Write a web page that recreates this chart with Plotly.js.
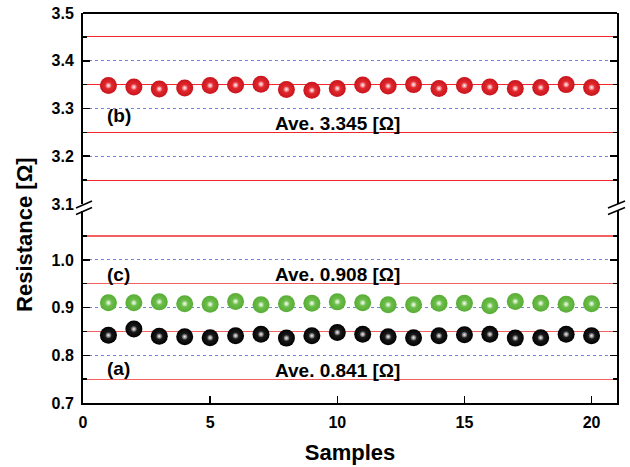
<!DOCTYPE html>
<html>
<head>
<meta charset="utf-8">
<script src="https://cdn.plot.ly/plotly-3.0.1.min.js"></script>
<style>html,body{margin:0;padding:0;background:#fff;}#chart{width:630px;height:467px;}</style>
</head>
<body>
<div id="chart"></div>
<script>
// ---- data ----
const samples = [1,2,3,4,5,6,7,8,9,10,11,12,13,14,15,16,17,18,19,20];
const resA = [0.842,0.855,0.840,0.839,0.837,0.841,0.844,0.836,0.841,0.848,0.844,0.839,0.837,0.841,0.843,0.844,0.836,0.837,0.844,0.841];
const resB = [3.348,3.345,3.341,3.343,3.348,3.349,3.351,3.340,3.338,3.342,3.349,3.347,3.350,3.342,3.348,3.345,3.342,3.344,3.350,3.344];
const resC = [0.910,0.910,0.912,0.908,0.907,0.913,0.906,0.908,0.909,0.912,0.910,0.906,0.906,0.909,0.909,0.904,0.913,0.909,0.907,0.908];
const xTicks = [0,5,10,15,20];
const yLowTicks = [0.7,0.8,0.9,1.0];
const yLowText = ['0.7','0.8','0.9','1.0'];
const yLowMinor = [0.75,0.85,0.95,1.05];
const yHighTicks = [3.1,3.2,3.3,3.4,3.5];
const yHighText = ['3.1','3.2','3.3','3.4','3.5'];
const yHighMinor = [3.15,3.25,3.35,3.45];
const seriesLabels = ['(a)','(b)','(c)'];
const aveLabels = ['Ave. 0.841 [Ω]','Ave. 3.345 [Ω]','Ave. 0.908 [Ω]'];

const FONT = 'Liberation Sans, Arial, sans-serif';

function balls(y, edge, center, yaxis){
  return [
    {x: samples, y: y, yaxis: yaxis, type:'scatter', mode:'markers', hoverinfo:'skip',
     marker:{size:17, color: edge, line:{width:0}, gradient:{type:'radial', color:center}}},
    {x: samples, y: y, yaxis: yaxis, type:'scatter', mode:'markers', hoverinfo:'skip',
     marker:{size:6, color:'rgba(255,255,255,0.15)', line:{width:0},
             gradient:{type:'radial', color:'rgba(255,255,255,0.95)'}}}
  ];
}

const data = [].concat(
  balls(resB, '#c8141c', '#f2343a', 'y2'),
  balls(resC, '#58ad36', '#78c855', 'y'),
  balls(resA, '#000000', '#2a2a2a', 'y')
);

const yCommon = {
  showline:true, linecolor:'#000', linewidth:2, mirror:'ticks',
  ticks:'inside', ticklen:7, tickwidth:1.5, tickcolor:'#000',
  tickfont:{family:FONT, size:16, color:'#000', weight:'bold'},
  showgrid:true, gridcolor:'#6f8ad6', griddash:'dot', gridwidth:1,
  zeroline:false, tickmode:'array', ticklabelstandoff:4
};

const layout = {
  width:630, height:467,
  margin:{l:83, r:13, t:13, b:64},
  paper_bgcolor:'#fff', plot_bgcolor:'#fff',
  showlegend:false,
  xaxis:{
    range:[0,21], anchor:'y', tickmode:'array', tickvals:xTicks,
    ticks:'inside', ticklen:7, tickwidth:1.5, tickcolor:'#000',
    showline:true, linecolor:'#000', linewidth:2, mirror:false,
    showgrid:false, zeroline:false,
    tickfont:{family:FONT, size:16, color:'#000', weight:'bold'},
    ticklabelstandoff:4,
    title:{text:'Samples', font:{family:FONT, size:22, color:'#000', weight:'bold'}, standoff:14}
  },
  yaxis: Object.assign({}, yCommon, {
    domain:[0, 0.4923], range:[0.7, 1.1025], tickvals:yLowTicks, ticktext:yLowText,
    minor:{tickmode:'array', tickvals:yLowMinor, ticks:'inside', ticklen:4, tickcolor:'#000',
           showgrid:true, gridcolor:'#f26060', gridwidth:1.2, griddash:'solid'}
  }),
  yaxis2: Object.assign({}, yCommon, {
    domain:[0.5103, 1], range:[3.1, 3.5], tickvals:yHighTicks, ticktext:yHighText, anchor:'x',
    minor:{tickmode:'array', tickvals:yHighMinor, ticks:'inside', ticklen:4, tickcolor:'#000',
           showgrid:true, gridcolor:'#f0262c', gridwidth:1.2, griddash:'solid'}
  }),
  shapes:[
    {type:'line', xref:'paper', yref:'paper', x0:0, x1:1, y0:1, y1:1, line:{color:'#000', width:2}},
    // break marks left
    {type:'line', xref:'paper', yref:'paper', xsizemode:'pixel', ysizemode:'pixel', xanchor:0, yanchor:0.5013,
     x0:-7, x1:9, y0:-0.5, y1:6.5, line:{color:'#000', width:1.5}},
    {type:'line', xref:'paper', yref:'paper', xsizemode:'pixel', ysizemode:'pixel', xanchor:0, yanchor:0.5013,
     x0:-7, x1:9, y0:-7, y1:0, line:{color:'#000', width:1.5}},
    // break marks right
    {type:'line', xref:'paper', yref:'paper', xsizemode:'pixel', ysizemode:'pixel', xanchor:1, yanchor:0.5013,
     x0:-9, x1:8, y0:-0.5, y1:6.5, line:{color:'#000', width:1.5}},
    {type:'line', xref:'paper', yref:'paper', xsizemode:'pixel', ysizemode:'pixel', xanchor:1, yanchor:0.5013,
     x0:-9, x1:8, y0:-7, y1:0, line:{color:'#000', width:1.5}}
  ],
  annotations:[
    {x:1.4, y:3.286, xref:'x', yref:'y2', text:seriesLabels[1], showarrow:false, font:{family:FONT, size:19, color:'#000', weight:'bold'}},
    {x:10, y:3.269, xref:'x', yref:'y2', text:aveLabels[1], showarrow:false, font:{family:FONT, size:19, color:'#000', weight:'bold'}},
    {x:1.4, y:0.969, xref:'x', yref:'y', text:seriesLabels[2], showarrow:false, font:{family:FONT, size:19, color:'#000', weight:'bold'}},
    {x:10, y:0.970, xref:'x', yref:'y', text:aveLabels[2], showarrow:false, font:{family:FONT, size:19, color:'#000', weight:'bold'}},
    {x:1.4, y:0.7715, xref:'x', yref:'y', text:seriesLabels[0], showarrow:false, font:{family:FONT, size:19, color:'#000', weight:'bold'}},
    {x:10, y:0.769, xref:'x', yref:'y', text:aveLabels[0], showarrow:false, font:{family:FONT, size:19, color:'#000', weight:'bold'}},
    {x:-0.1086, y:0.431, xref:'paper', yref:'paper', xanchor:'center', yanchor:'middle',
     text:'Resistance [Ω]', textangle:-90, showarrow:false,
     font:{family:FONT, size:22, color:'#000', weight:'bold'}}
  ]
};

Plotly.newPlot('chart', data, layout, {displayModeBar:false, staticPlot:true});
</script>
</body>
</html>
